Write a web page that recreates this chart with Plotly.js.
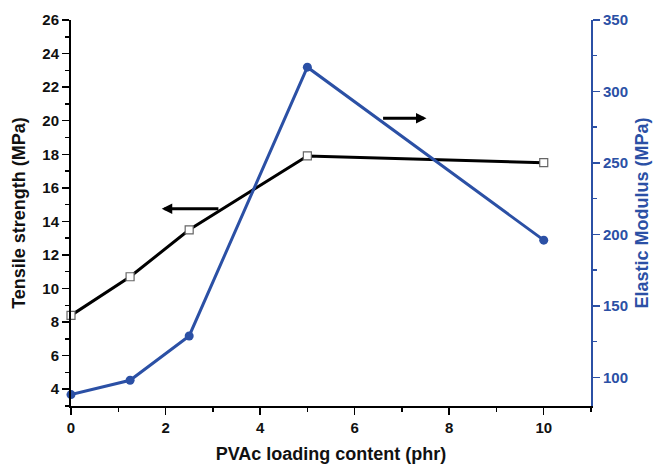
<!DOCTYPE html>
<html>
<head>
<meta charset="utf-8">
<script src="https://cdn.plot.ly/plotly-3.0.1.min.js"></script>
<style>html,body{margin:0;padding:0;background:#fff;}#chart{width:654px;height:465px;}</style>
</head>
<body>
<div id="chart"></div>
<script>
const pvacContent = [0, 1.25, 2.5, 5, 10];
const tensileStrength = [8.4, 10.7, 13.5, 17.9, 17.5];
const elasticModulus = [88, 98, 129, 317, 196];
const xTitle = 'PVAc loading content (phr)';
const yTitle = 'Tensile strength (MPa)';
const y2Title = 'Elastic Modulus (MPa)';

const blue = '#2b50a5';
const font = 'Liberation Sans, Arial, sans-serif';

const traces = [
  {
    x: pvacContent, y: tensileStrength, type: 'scatter', mode: 'lines+markers',
    line: {color: '#000', width: 3},
    marker: {symbol: 'square', size: 8, color: '#fff', line: {color: '#666', width: 1.2}},
    xaxis: 'x', yaxis: 'y', cliponaxis: false
  },
  {
    x: pvacContent, y: elasticModulus, type: 'scatter', mode: 'lines+markers',
    line: {color: blue, width: 3},
    marker: {symbol: 'circle', size: 9, color: blue},
    xaxis: 'x', yaxis: 'y2', cliponaxis: false
  }
];

const tickFont = {family: font, size: 15, color: '#111', weight: 'bold'};

const layout = {
  width: 654, height: 465,
  margin: {l: 71, r: 63, t: 20, b: 59},
  paper_bgcolor: '#fff', plot_bgcolor: '#fff',
  showlegend: false,
  font: {family: font},
  xaxis: {
    range: [0, 11], dtick: 2, tick0: 0,
    showgrid: false, zeroline: false,
    showline: true, linecolor: '#000', linewidth: 2,
    ticks: 'outside', ticklen: 7, tickwidth: 1.5, tickcolor: '#000',
    minor: {dtick: 1, ticks: 'outside', ticklen: 4, tickwidth: 1.5, tickcolor: '#000', showgrid: false},
    tickfont: tickFont,
    title: {text: xTitle, font: {family: font, size: 18, color: '#111', weight: 'bold'}, standoff: 12}
  },
  xaxis3: {
    overlaying: 'x', side: 'top', anchor: 'y', matches: 'x',
    range: [0, 11], dtick: 2, tick0: 0,
    showgrid: false, zeroline: false, showticklabels: false,
    showline: true, linecolor: '#000', linewidth: 2,
    ticks: 'inside', ticklen: 7, tickwidth: 1.5, tickcolor: '#000',
    minor: {dtick: 1, ticks: 'inside', ticklen: 4, tickwidth: 1.5, tickcolor: '#000', showgrid: false}
  },
  yaxis: {
    range: [3, 26], dtick: 2, tick0: 0,
    showgrid: false, zeroline: false,
    showline: true, linecolor: '#000', linewidth: 2,
    ticks: 'outside', ticklen: 7, tickwidth: 1.5, tickcolor: '#000',
    minor: {dtick: 1, ticks: 'outside', ticklen: 4, tickwidth: 1.5, tickcolor: '#000', showgrid: false},
    tickfont: tickFont,
    title: {text: yTitle, font: {family: font, size: 18, color: '#111', weight: 'bold'}, standoff: 12}
  },
  yaxis2: {
    overlaying: 'y', side: 'right', anchor: 'x',
    range: [80, 350], dtick: 50, tick0: 0,
    showgrid: false, zeroline: false,
    showline: true, linecolor: blue, linewidth: 2,
    ticks: 'outside', ticklen: 7, tickwidth: 1.5, tickcolor: blue,
    minor: {dtick: 25, ticks: 'outside', ticklen: 4, tickwidth: 1.5, tickcolor: blue, showgrid: false},
    tickfont: {family: font, size: 15, color: blue, weight: 'bold'},
    title: {text: y2Title, font: {family: font, size: 18, color: blue, weight: 'bold'}, standoff: 8}
  },
  annotations: [
    {x: 1.92, y: 14.75, ax: 3.15, ay: 14.75, xref: 'x', yref: 'y', axref: 'x', ayref: 'y',
     text: '', showarrow: true, arrowhead: 2, arrowsize: 0.7, arrowwidth: 3, arrowcolor: '#000'},
    {x: 7.52, y: 20.14, ax: 6.57, ay: 20.14, xref: 'x', yref: 'y', axref: 'x', ayref: 'y',
     text: '', showarrow: true, arrowhead: 2, arrowsize: 0.7, arrowwidth: 3, arrowcolor: '#000'}
  ]
};

Plotly.newPlot('chart', traces, layout, {displayModeBar: false, staticPlot: true});
</script>
</body>
</html>
